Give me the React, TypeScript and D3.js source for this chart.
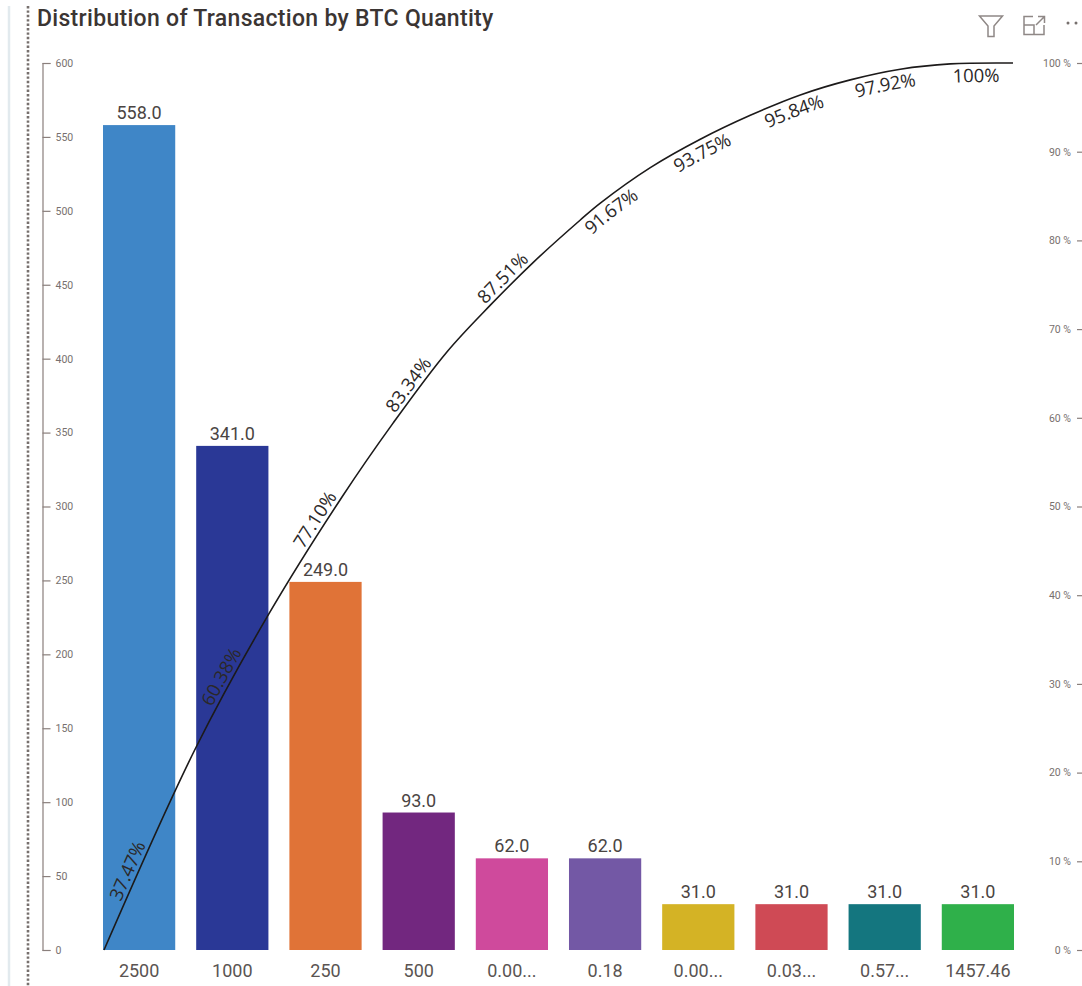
import React, { useRef, useEffect } from 'react';
import * as d3 from 'd3';

const width = 1082;
const height = 986;

const categories = ['2500', '1000', '250', '500', '0.00...', '0.18', '0.00...', '0.03...', '0.57...', '1457.46'];
const quantities = [558, 341, 249, 93, 62, 62, 31, 31, 31, 31];
const barColors = ['#3f86c7', '#2a3896', '#e07337', '#72277f', '#cf4a9c', '#7358a5', '#d4b325', '#cf4a55', '#14767f', '#2fb04a'];

const cumulativeLabels = ['37.47%', '60.38%', '77.10%', '83.34%', '87.51%', '91.67%', '93.75%', '95.84%', '97.92%', '100%'];
// which side of the line each label sits on
const labelBelow = [false, false, false, false, false, true, true, true, true, true];

// the line: share of the plot width, cumulative percent
const curveProgress = [0, 0.101, 0.182, 0.262, 0.318, 0.377, 0.425, 0.472, 0.524, 0.546, 0.601, 0.656, 0.711, 0.766, 0.821, 0.876, 0.931, 1];
const curvePercent = [0, 22.8, 38, 51.1, 59.4, 67.4, 72.7, 77.5, 82.3, 84.2, 88.2, 91.4, 94.1, 96.4, 98.1, 99.3, 99.9, 100];

const countTicks = d3.range(0, 601, 50);
const percentTicks = d3.range(0, 101, 10);

const App = () => {
  const svgRef = useRef<SVGSVGElement>(null);

  useEffect(() => {
    const svg = d3.select(svgRef.current);
    const margin = { top: 63, right: 68, bottom: 36, left: 103 };
    const plotBottom = height - margin.bottom;

    const x = d3.scaleBand<number>()
      .domain(d3.range(categories.length))
      .range([margin.left, width - margin.right])
      .paddingInner(0.225)
      .paddingOuter(0);

    const y = d3.scaleLinear().domain([0, 600]).range([plotBottom, margin.top]);
    const yPercent = d3.scaleLinear().domain([0, 100]).range([plotBottom, margin.top]);
    const xCurve = d3.scaleLinear().domain([0, 1]).range([margin.left + 1, width - margin.right - 1]);

    // bars
    svg.select('.bars').selectAll('rect')
      .data(quantities)
      .join('rect')
      .attr('x', (d, i) => x(i))
      .attr('y', d => y(d))
      .attr('width', x.bandwidth())
      .attr('height', d => y(0) - y(d))
      .attr('fill', (d, i) => barColors[i]);

    svg.select('.bar-labels').selectAll('text')
      .data(quantities)
      .join('text')
      .attr('x', (d, i) => x(i) + x.bandwidth() / 2)
      .attr('y', d => y(d) - 6)
      .attr('text-anchor', 'middle')
      .attr('font-family', 'Roboto')
      .attr('font-size', 18)
      .attr('fill', '#4a4442')
      .text(d => d.toFixed(1));

    svg.select('.x-labels').selectAll('text')
      .data(categories)
      .join('text')
      .attr('x', (d, i) => x(i) + x.bandwidth() / 2)
      .attr('y', plotBottom + 27)
      .attr('text-anchor', 'middle')
      .attr('font-family', 'Roboto')
      .attr('font-size', 18)
      .attr('fill', '#5a5452')
      .text(d => d);

    // axes
    const leftAxis = svg.select('.y-axis')
      .attr('transform', 'translate(42.5, 0)')
      .call(d3.axisRight(y).tickValues(countTicks).tickSize(8).tickPadding(5));
    const rightAxis = svg.select('.y-axis-right')
      .attr('transform', 'translate(1085, 0)')
      .call(d3.axisLeft(yPercent).tickValues(percentTicks).tickSize(8).tickPadding(6).tickFormat(d => `${d} %`));

    [leftAxis, rightAxis].forEach(axis => {
      axis.select('.domain').attr('stroke', '#8a7f7c').attr('stroke-width', 1.2);
      axis.selectAll('.tick line').attr('stroke', '#8a7f7c').attr('stroke-width', 1.2);
      axis.selectAll('.tick text')
        .attr('font-family', 'Roboto')
        .attr('font-size', 10.5)
        .attr('fill', '#77706e');
    });

    // cumulative line
    const line = d3.line<number>()
      .x(d => xCurve(d))
      .y((d, i) => yPercent(curvePercent[i]))
      .curve(d3.curveCatmullRom);

    const path = svg.select<SVGPathElement>('#pareto-line')
      .attr('d', line(curveProgress))
      .attr('fill', 'none')
      .attr('stroke', '#1c1a1a')
      .attr('stroke-width', 1.6);

    // each label is centred on the line where it crosses the middle of its bar
    const node = path.node();
    const total = node.getTotalLength();
    const offsetAtX = (target: number) => {
      let lo = 0;
      let hi = total;
      for (let k = 0; k < 30; k++) {
        const mid = (lo + hi) / 2;
        if (node.getPointAtLength(mid).x < target) lo = mid;
        else hi = mid;
      }
      return lo;
    };

    svg.select('.line-labels').selectAll('text')
      .data(cumulativeLabels)
      .join('text')
      .attr('font-family', '"Open Sans"')
      .attr('font-size', 18.5)
      .attr('fill', '#2b2828')
      .attr('text-anchor', 'middle')
      .attr('dy', (d, i) => (labelBelow[i] ? 19 : -4))
      .selectAll('textPath')
      .data((d, i) => [{ label: d, i }])
      .join('textPath')
      .attr('href', '#pareto-line')
      .attr('startOffset', d => offsetAtX(x(d.i) + x.bandwidth() / 2 - 2))
      .text(d => d.label);
  }, []);

  return (
    <svg ref={svgRef} width={width} height={height} style={{ position: 'absolute', left: 0, top: 0, background: '#fff' }}>
      <line x1={9} x2={9} y1={6} y2={height} stroke="#e2eaee" strokeWidth={2.5} />
      <line x1={28} x2={28} y1={6} y2={height} stroke="#77706e" strokeWidth={2.6} strokeDasharray="2.4 2" />
      <text x={37} y={26} fontFamily="Roboto" fontSize={23} fontWeight={500} letterSpacing={0.3} fill="#3b3533">
        Distribution of Transaction by BTC Quantity
      </text>
      {/* header icons */}
      <g fill="none" stroke="#8f8886" strokeWidth={1.5}>
        <path d="M979.5 16 H1002.5 L994 26 V36.5 H988 V26 Z" />
        <path d="M1033 16.5 H1024 V34.5 H1044 V25 M1024 25 H1034 V34.5 M1036 25 L1044 17 M1038 16.5 H1044.5 V23" />
      </g>
      <circle cx={1068} cy={23} r={1.5} fill="#77706e" />
      <circle cx={1076} cy={23} r={1.5} fill="#77706e" />
      <g className="bars" />
      <g className="bar-labels" />
      <g className="x-labels" />
      <g className="y-axis" />
      <g className="y-axis-right" />
      <path id="pareto-line" />
      <g className="line-labels" />
    </svg>
  );
};

export default App;
